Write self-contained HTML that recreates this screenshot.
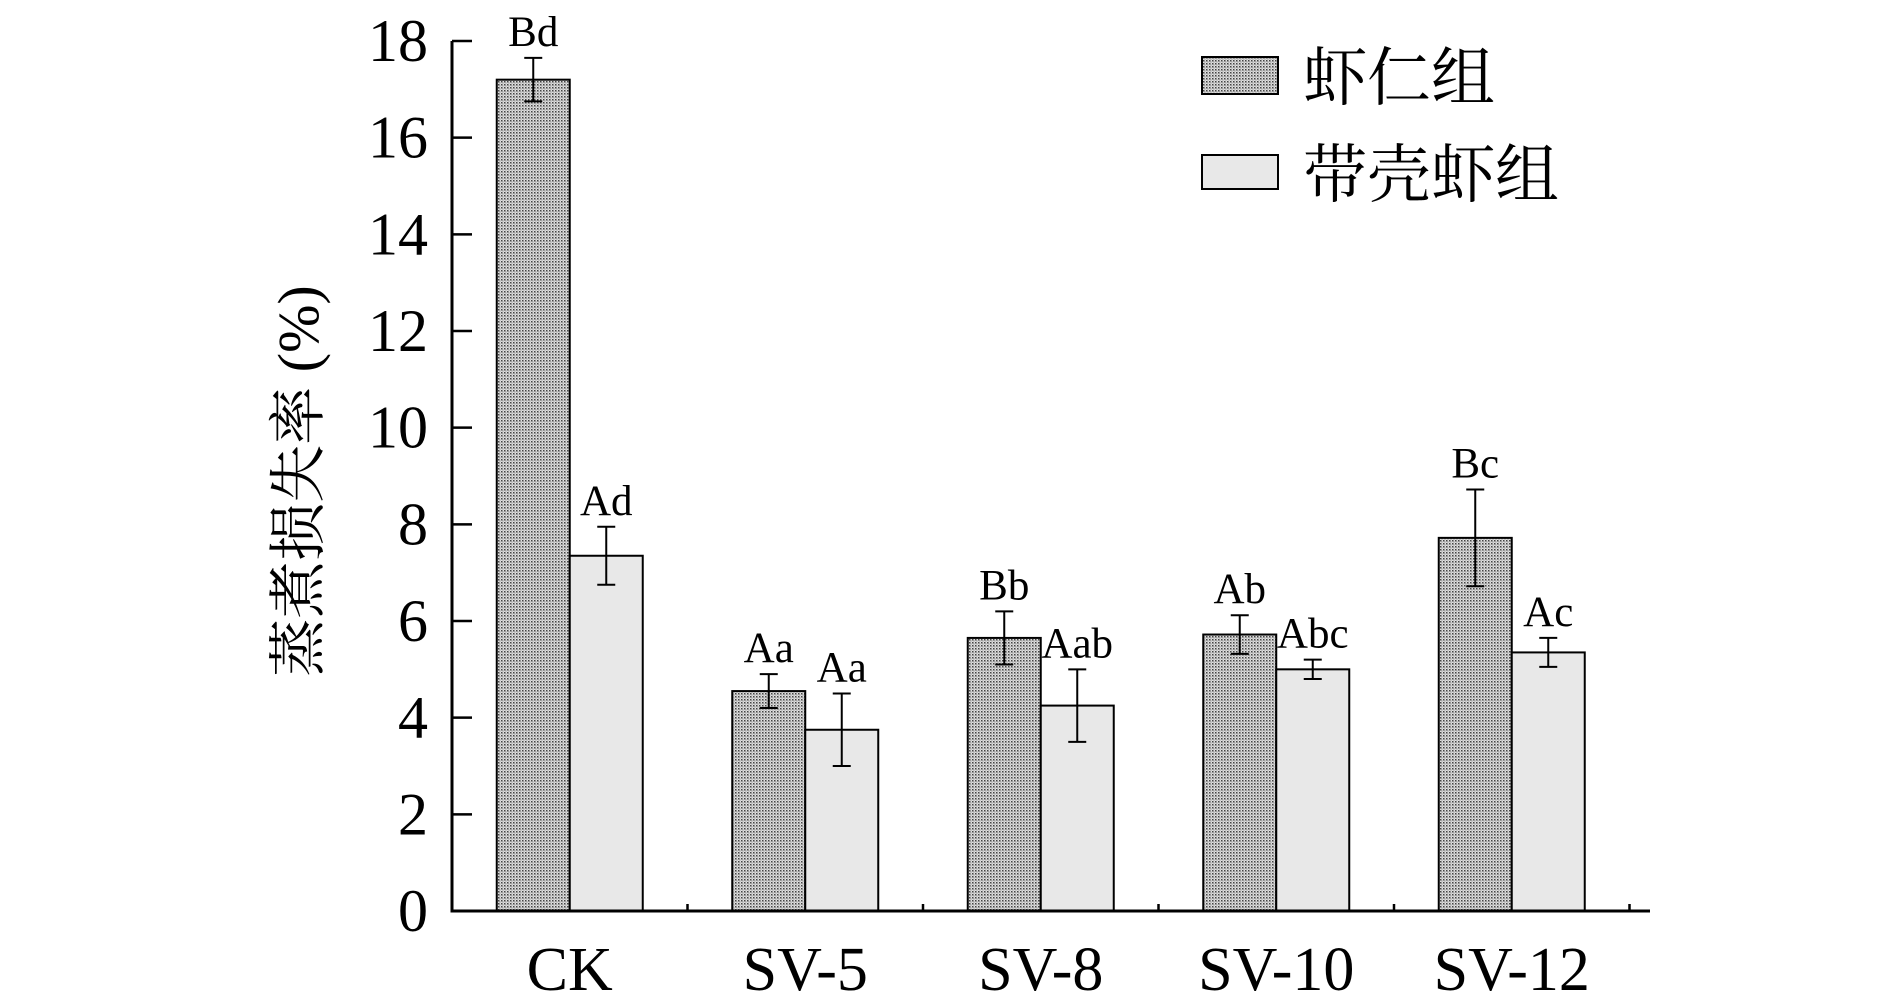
<!DOCTYPE html>
<html><head><meta charset="utf-8"><style>
html,body{margin:0;padding:0;background:#fff;}
svg{display:block;font-family:"Liberation Serif","Noto Serif CJK SC",serif;}
</style></head><body>
<svg id="chart" width="1890" height="1002" viewBox="0 0 1890 1002" xmlns="http://www.w3.org/2000/svg">
<defs>
<pattern id="dots" width="3" height="3" patternUnits="userSpaceOnUse">
<rect width="3" height="3" fill="#e0e0e0"/>
<rect width="1.5" height="1.5" fill="#444"/>
<rect x="1.5" y="1.5" width="1" height="1" fill="#777"/>
</pattern>
</defs>
<g id="plot"></g>
</svg>
<script>
const categories=["CK","SV-5","SV-8","SV-10","SV-12"];
const kernelVals=[17.2,4.55,5.65,5.72,7.72];
const kernelErr=[0.45,0.35,0.55,0.4,1.0];
const kernelLbl=["Bd","Aa","Bb","Ab","Bc"];
const shellVals=[7.35,3.75,4.25,5.0,5.35];
const shellErr=[0.6,0.75,0.75,0.2,0.3];
const shellLbl=["Ad","Aa","Aab","Abc","Ac"];
const yTicks=[0,2,4,6,8,10,12,14,16,18];

const NS="http://www.w3.org/2000/svg";
const g=document.getElementById('plot');
const X0=452,XEND=1650,Y0=911,Y18=41;
const y=v=>Y0-(v/18)*(Y0-Y18);
const band=235.5;
const cx=i=>X0+band*(i+0.5);
const BW=73;
function mk(t,a,txt){const e=document.createElementNS(NS,t);for(const k in a)e.setAttribute(k,a[k]);if(txt!==undefined)e.textContent=txt;g.appendChild(e);return e;}

categories.forEach((c,i)=>{
  const xc=cx(i);
  [[kernelVals,kernelErr,kernelLbl,xc-BW,'url(#dots)','kernel'],[shellVals,shellErr,shellLbl,xc,'#e8e8e8','shell']].forEach(s=>{
    const v=s[0][i],e=s[1][i],x=s[3];
    const r=mk('rect',{x:x,y:y(v),width:BW,height:Y0-y(v),fill:s[4],stroke:'#000','stroke-width':2});
    
    
    const m=x+BW/2;
    const eb=mk('path',{d:`M${m-9},${y(v+e)}H${m+9}M${m},${y(v+e)}V${y(v-e)}M${m-9},${y(v-e)}H${m+9}`,stroke:'#000','stroke-width':2,fill:'none'});
    
    
    const t=mk('text',{x:m,y:y(v+e)-12,'text-anchor':'middle','font-size':43},s[2][i]);
    
    
  });
  const xl=mk('text',{x:xc,y:990,'text-anchor':'middle','font-size':62},c);
  
  
});
const ax=mk('path',{d:`M${X0},${Y18}V${Y0}H${XEND}`,stroke:'#000','stroke-width':3,fill:'none'});


yTicks.forEach(t=>{
  const tk=mk('line',{x1:X0,x2:X0+20,y1:y(t),y2:y(t),stroke:'#000','stroke-width':2.5});
  
  
  const tl=mk('text',{x:X0-24,y:y(t)+20,'text-anchor':'end','font-size':60},t);
  
  
});
for(let i=0;i<=categories.length;i++){
  const tk=mk('line',{x1:X0+band*i,x2:X0+band*i,y1:Y0,y2:Y0-7,stroke:'#000','stroke-width':2.5});
  
  
}
const yt=mk('text',{x:0,y:0,'text-anchor':'middle','font-size':58,transform:'translate(318,481) rotate(-90)'},'蒸煮损失率 (%)');


const l1=mk('rect',{x:1202,y:57,width:76,height:37,fill:'url(#dots)',stroke:'#000','stroke-width':2});


const l2=mk('rect',{x:1202,y:155,width:76,height:34,fill:'#e8e8e8',stroke:'#000','stroke-width':2});


const t1=mk('text',{x:1303,y:100,'font-size':64},'虾仁组');


const t2=mk('text',{x:1303,y:197,'font-size':64},'带壳虾组');


</script>
</body></html>
